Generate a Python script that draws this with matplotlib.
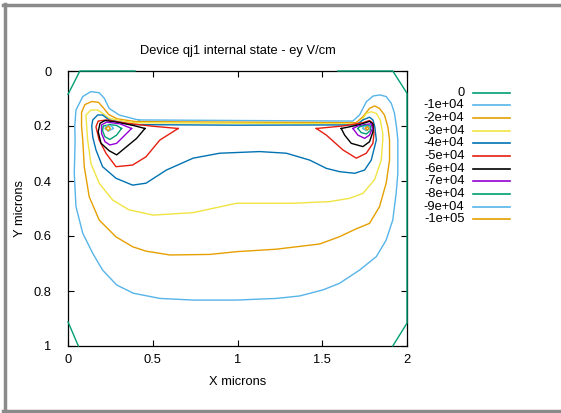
import matplotlib
matplotlib.use("Agg")
import matplotlib.pyplot as plt
from matplotlib.lines import Line2D

plt.rcParams['font.family'] = ['Liberation Sans', 'DejaVu Sans']

# contour levels, legend labels and gnuplot colours
levels = [0, -1e4, -2e4, -3e4, -4e4, -5e4, -6e4, -7e4, -8e4, -9e4, -1e5]
level_labels = ['0', '-1e+04', '-2e+04', '-3e+04', '-4e+04', '-5e+04',
                '-6e+04', '-7e+04', '-8e+04', '-9e+04', '-1e+05']
level_colors = ['#009e73', '#56b4e9', '#e69f00', '#f0e442', '#0072b2', '#e51e10',
                '#000000', '#9400d3', '#009e73', '#56b4e9', '#e69f00']

# contour paths (x, y in microns)
c0_top_left = [(0.0, 0.085), (0.07, 0.0), (0.395, 0.0)]
c0_top_right = [(1.592, 0.0), (1.916, 0.0), (2.0, 0.081), (2.0, 0.917), (1.916, 1.0)]
c0_bottom_left = [(0.0, 0.912), (0.061, 1.0)]

c10k = [(0.42, 0.178), (1.0, 0.180), (1.68, 0.182), (1.72, 0.160), (1.76, 0.112),
        (1.80, 0.091), (1.84, 0.087), (1.877, 0.093), (1.907, 0.117), (1.926, 0.153),
        (1.938, 0.203), (1.946, 0.251), (1.946, 0.372), (1.936, 0.445), (1.916, 0.542),
        (1.877, 0.615), (1.819, 0.675), (1.720, 0.724), (1.602, 0.772), (1.504, 0.796),
        (1.367, 0.818), (1.229, 0.827), (0.994, 0.833), (0.738, 0.833), (0.542, 0.827),
        (0.385, 0.808), (0.287, 0.778), (0.204, 0.724), (0.146, 0.663), (0.087, 0.590),
        (0.047, 0.493), (0.037, 0.372), (0.042, 0.251), (0.040, 0.200), (0.047, 0.142),
        (0.087, 0.093), (0.135, 0.075), (0.184, 0.079), (0.214, 0.099), (0.243, 0.136),
        (0.302, 0.160), (0.401, 0.176), (0.42, 0.178)]

c20k = [(0.40, 0.184), (1.0, 0.186), (1.70, 0.188), (1.740, 0.166), (1.779, 0.136),
        (1.808, 0.127), (1.838, 0.136), (1.867, 0.160), (1.887, 0.203), (1.897, 0.251),
        (1.897, 0.324), (1.877, 0.408), (1.838, 0.493), (1.779, 0.554), (1.700, 0.574),
        (1.600, 0.603), (1.485, 0.629), (1.229, 0.648), (0.994, 0.657), (0.837, 0.667),
        (0.601, 0.669), (0.460, 0.655), (0.381, 0.639), (0.283, 0.603), (0.184, 0.542),
        (0.125, 0.457), (0.096, 0.348), (0.087, 0.251), (0.080, 0.200), (0.080, 0.150),
        (0.100, 0.122), (0.140, 0.111), (0.180, 0.114), (0.210, 0.135), (0.240, 0.158),
        (0.290, 0.174), (0.40, 0.184)]

c30k = [(0.38, 0.188), (1.0, 0.190), (1.72, 0.192), (1.760, 0.154), (1.789, 0.148),
        (1.819, 0.154), (1.842, 0.178), (1.857, 0.227), (1.857, 0.251), (1.848, 0.324),
        (1.808, 0.396), (1.740, 0.445), (1.661, 0.463), (1.543, 0.475), (1.327, 0.481),
        (0.994, 0.481), (0.738, 0.515), (0.503, 0.524), (0.360, 0.505), (0.263, 0.469),
        (0.184, 0.408), (0.135, 0.336), (0.116, 0.251), (0.110, 0.200), (0.106, 0.160),
        (0.135, 0.142), (0.175, 0.142), (0.204, 0.154), (0.243, 0.172), (0.38, 0.188)]

c40k = [(0.38, 0.195), (1.0, 0.197), (1.70, 0.196), (1.740, 0.178), (1.779, 0.168),
        (1.799, 0.178), (1.810, 0.203), (1.819, 0.251), (1.789, 0.324), (1.750, 0.360),
        (1.691, 0.372), (1.602, 0.366), (1.524, 0.354), (1.426, 0.324), (1.288, 0.299),
        (1.131, 0.293), (0.895, 0.299), (0.738, 0.317), (0.581, 0.360), (0.460, 0.408),
        (0.381, 0.415), (0.283, 0.390), (0.204, 0.348), (0.165, 0.287), (0.146, 0.240),
        (0.140, 0.200), (0.146, 0.178), (0.175, 0.160), (0.204, 0.160), (0.243, 0.178),
        (0.38, 0.195)]

c50k_left = [(0.650, 0.209), (0.542, 0.251), (0.460, 0.312), (0.381, 0.342), (0.283, 0.348),
             (0.224, 0.299), (0.184, 0.251), (0.165, 0.203), (0.178, 0.182), (0.228, 0.178),
             (0.346, 0.190), (0.503, 0.201), (0.650, 0.209)]
c50k_right = [(1.465, 0.209), (1.524, 0.233), (1.622, 0.287), (1.701, 0.317), (1.760, 0.299),
              (1.799, 0.263), (1.805, 0.227), (1.799, 0.190), (1.779, 0.180), (1.740, 0.188),
              (1.622, 0.200), (1.465, 0.209)]

c60k_left = [(0.454, 0.209), (0.405, 0.245), (0.346, 0.275), (0.287, 0.305), (0.243, 0.290),
             (0.195, 0.263), (0.178, 0.221), (0.189, 0.190), (0.218, 0.180), (0.287, 0.186),
             (0.385, 0.198), (0.454, 0.209)]
c60k_right = [(1.612, 0.209), (1.632, 0.233), (1.671, 0.263), (1.740, 0.275), (1.779, 0.257),
              (1.799, 0.221), (1.799, 0.193), (1.779, 0.183), (1.720, 0.195), (1.661, 0.203),
              (1.612, 0.209)]

c70k_left = [(0.375, 0.209), (0.336, 0.233), (0.287, 0.263), (0.247, 0.269), (0.218, 0.257),
             (0.198, 0.227), (0.198, 0.196), (0.228, 0.186), (0.306, 0.192), (0.375, 0.209)]
c70k_right = [(1.681, 0.209), (1.710, 0.233), (1.750, 0.245), (1.779, 0.233), (1.796, 0.209),
              (1.789, 0.192), (1.750, 0.195), (1.710, 0.200), (1.681, 0.209)]

c80k_left = [(0.316, 0.209), (0.287, 0.233), (0.247, 0.249), (0.218, 0.239), (0.204, 0.217),
             (0.208, 0.200), (0.247, 0.195), (0.287, 0.198), (0.316, 0.209)]
c80k_right = [(1.710, 0.209), (1.730, 0.224), (1.760, 0.229), (1.783, 0.217), (1.785, 0.200),
              (1.756, 0.197), (1.720, 0.203), (1.710, 0.209)]

c90k_left = [(0.267, 0.209), (0.237, 0.219), (0.218, 0.209), (0.228, 0.199), (0.257, 0.200),
             (0.267, 0.209)]
c90k_right = [(1.740, 0.209), (1.760, 0.217), (1.779, 0.209), (1.769, 0.200), (1.743, 0.203),
              (1.740, 0.209)]

c100k_left = [(0.224, 0.209), (0.237, 0.200), (0.250, 0.209), (0.237, 0.217), (0.224, 0.209)]
c100k_right = [(1.755, 0.209), (1.765, 0.202), (1.775, 0.209), (1.765, 0.215), (1.755, 0.209)]

contours = [
    [c0_top_left, c0_top_right, c0_bottom_left],
    [c10k],
    [c20k],
    [c30k],
    [c40k],
    [c50k_left, c50k_right],
    [c60k_left, c60k_right],
    [c70k_left, c70k_right],
    [c80k_left, c80k_right],
    [c90k_left, c90k_right],
    [c100k_left, c100k_right],
]

x_ticks = [0, 0.5, 1, 1.5, 2]
x_tick_labels = ['0', '0.5', '1', '1.5', '2']
y_ticks = [0, 0.2, 0.4, 0.6, 0.8, 1]
y_tick_labels = ['0', '0.2', '0.4', '0.6', '0.8', '1']

fs = 9.3
fig = plt.figure(figsize=(5.61, 4.13), dpi=100)
ax = fig.add_axes([68 / 561, 1 - 346 / 413, 339 / 561, 275 / 413])

for segs, col in zip(contours, level_colors):
    for seg in segs:
        xs = [p[0] for p in seg]
        ys = [p[1] for p in seg]
        ax.plot(xs, ys, color=col, lw=1.0, clip_on=False, zorder=3)

ax.set_xlim(0, 2)
ax.set_ylim(1, 0)
ax.set_xticks(x_ticks)
ax.set_xticklabels(x_tick_labels)
ax.set_yticks(y_ticks)
ax.set_yticklabels(y_tick_labels)
ax.tick_params(direction='in', length=4, width=0.8, top=True, right=True, labelsize=fs)
ax.tick_params(axis='x', pad=6)
ax.tick_params(axis='y', pad=12)
for sp in ax.spines.values():
    sp.set_linewidth(0.9)
    sp.set_zorder(2)

ax.set_title('Device qj1 internal state - ey V/cm', fontsize=fs, pad=12)
ax.set_xlabel('X microns', fontsize=fs, labelpad=7)
ax.set_ylabel('Y microns', fontsize=fs, labelpad=5)

# key on the right, gnuplot style (text then line sample)
for i, (lab, col) in enumerate(zip(level_labels, level_colors)):
    yy = 1 - (92.7 + i * 12.66) / 413
    fig.text(464.5 / 561, yy, lab, ha='right', va='center', fontsize=fs)
    fig.add_artist(Line2D([473 / 561, 509.5 / 561], [yy, yy], color=col, lw=1.2))

# grey screenshot frame
frame = '#8a8a8a'
fig.add_artist(Line2D([3 / 561, 1], [1 - 5 / 413, 1 - 5 / 413], color=frame, lw=2.5))
fig.add_artist(Line2D([4.5 / 561, 4.5 / 561], [1 - 4 / 413, 1 - 411 / 413], color=frame, lw=2.5))
fig.add_artist(Line2D([3 / 561, 1], [1 - 410.5 / 413, 1 - 410.5 / 413], color=frame, lw=2.5))

fig.savefig('out.png', dpi=100)
